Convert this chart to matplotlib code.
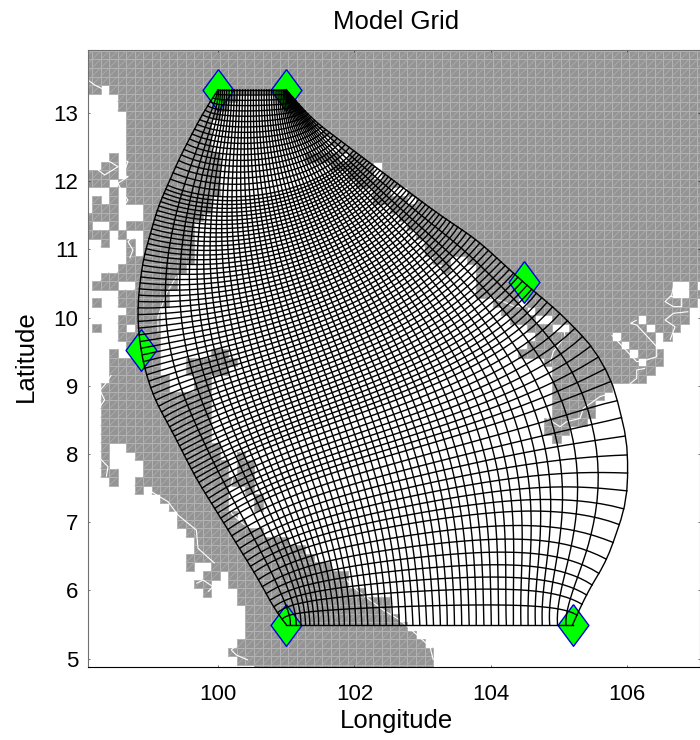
import numpy as np
import matplotlib
matplotlib.use('Agg')
import matplotlib.pyplot as plt
from matplotlib.collections import LineCollection, PolyCollection

plt.rcParams['font.family'] = ['Liberation Sans', 'DejaVu Sans']

# land mask: 1/8 degree cells, water cols (start, end) listed per row from the top
cell = 0.125
mask_lon0 = 98.028
mask_lat0 = 13.91
n_cols = 73
water_rows = [
    [], [], [], [],
    [(2, 3)],
    [(0, 4), (18, 23)],
    [(0, 4), (17, 25)],
    [(0, 5), (16, 26)],
    [(0, 5), (15, 26)],
    [(0, 5), (15, 28)],
    [(0, 5), (15, 29)],
    [(0, 5), (15, 30)],
    [(0, 3), (4, 5), (16, 26), (30, 31)],
    [(0, 2), (4, 5), (16, 29), (34, 35)],
    [(4, 5), (16, 31), (34, 35)],
    [(3, 4), (16, 32)],
    [(0, 3), (4, 5), (16, 34), (36, 38)],
    [(0, 1), (2, 3), (4, 5), (15, 34), (38, 39)],
    [(0, 1), (4, 7), (15, 36)],
    [(4, 7), (14, 37)],
    [(1, 3), (4, 5), (13, 38)],
    [(3, 4), (5, 7), (13, 39)],
    [(0, 2), (3, 5), (6, 7), (13, 40)],
    [(0, 5), (6, 7), (13, 40)],
    [(0, 5), (13, 41), (43, 45)],
    [(0, 4), (12, 42), (43, 46)],
    [(0, 2), (11, 46)],
    [(0, 1), (4, 6), (11, 46), (69, 71), (72, 73)],
    [(0, 4), (10, 46), (69, 71)],
    [(0, 1), (2, 4), (10, 48), (51, 52), (72, 73)],
    [(0, 5), (9, 49), (52, 53), (71, 73)],
    [(0, 4), (9, 50), (53, 55), (65, 66), (71, 73)],
    [(0, 1), (2, 4), (5, 6), (9, 52), (55, 57), (66, 67), (70, 73)],
    [(0, 4), (9, 53), (62, 63), (67, 68), (69, 73)],
    [(0, 5), (9, 52), (63, 64), (67, 73)],
    [(0, 3), (4, 6), (9, 15), (17, 51), (64, 65), (68, 73)],
    [(0, 3), (9, 12), (18, 54), (65, 66), (68, 73)],
    [(0, 3), (9, 12), (17, 55), (67, 73)],
    [(0, 3), (10, 13), (15, 55), (66, 73)],
    [(0, 2), (10, 13), (15, 55), (62, 73)],
    [(0, 2), (15, 55), (61, 73)],
    [(0, 2), (15, 55), (60, 73)],
    [(0, 2), (15, 55), (60, 73)],
    [(0, 2), (15, 54), (59, 73)],
    [(0, 2), (15, 54), (57, 73)],
    [(0, 2), (15, 55), (56, 73)],
    [(0, 2), (3, 5), (16, 73)],
    [(0, 2), (3, 6), (16, 18), (19, 73)],
    [(0, 2), (3, 7), (17, 18), (20, 73)],
    [(0, 2), (4, 7), (17, 18), (20, 73)],
    [(0, 3), (4, 6), (20, 73)],
    [(0, 6), (7, 8), (17, 19), (20, 73)],
    [(0, 9), (17, 20), (21, 73)],
    [(0, 10), (17, 20), (21, 73)],
    [(0, 11), (18, 73)],
    [(0, 11), (19, 73)],
    [(0, 12), (21, 73)],
    [(0, 13), (24, 73)],
    [(0, 13), (26, 73)],
    [(0, 12), (27, 73)],
    [(0, 12), (13, 15), (29, 73)],
    [(0, 14), (16, 17), (31, 73)],
    [(0, 13), (15, 17), (31, 73)],
    [(0, 14), (15, 18), (33, 73)],
    [(0, 18), (36, 73)],
    [(0, 19), (36, 73)],
    [(0, 19), (37, 73)],
    [(0, 19), (38, 73)],
    [(0, 19), (39, 73)],
    [(0, 18), (40, 73)],
    [(0, 17), (41, 73)],
    [(0, 18), (41, 73)],
    [(0, 20), (41, 73)],
]

# white coast lines
coast_lines = [
    [(105.772, 9.745), (106.139, 9.354), (106.286, 9.379), (106.432, 9.427), (106.432, 9.574),
     (106.139, 9.892), (106.051, 9.916), (106.139, 9.965)],
    [(106.848, 10.478), (106.677, 10.454), (106.652, 10.332), (106.554, 10.234), (106.677, 10.161),
     (106.799, 10.161), (106.799, 10.307), (106.628, 10.307)],
    [(106.896, 10.087), (106.677, 10.063), (106.554, 9.965), (106.701, 9.867), (106.628, 9.672)],
    [(105.992, 8.988), (106.139, 9.110), (106.139, 9.232), (106.261, 9.256)],
    [(104.819, 8.523), (105.015, 8.401), (105.113, 8.474), (105.308, 8.523), (105.357, 8.670),
     (105.601, 8.841), (105.748, 8.890)],
    [(104.868, 9.330), (104.917, 9.501), (105.088, 9.721), (105.064, 9.867)],
    [(103.963, 10.307), (104.183, 10.234), (104.354, 10.160), (104.525, 10.185)],
    [(98.094, 13.484), (98.192, 13.411), (98.338, 13.338)],
    [(98.265, 12.311), (98.412, 12.287), (98.534, 12.213), (98.338, 12.091), (98.241, 12.164)],
    [(98.558, 12.311), (98.680, 12.287), (98.607, 12.091), (98.680, 12.067), (98.534, 11.969),
     (98.607, 11.822), (98.680, 11.725), (98.607, 11.627)],
    [(98.680, 11.236), (98.778, 11.211), (98.680, 11.114), (98.754, 10.991), (98.705, 10.869)],
    [(98.436, 9.158), (98.338, 9.011), (98.270, 8.938), (98.338, 8.792), (98.270, 8.694)],
    [(98.270, 7.936), (98.387, 7.814), (98.363, 7.667)],
    [(99.023, 7.447), (99.267, 7.301), (99.414, 7.105), (99.683, 6.885), (99.707, 6.617), (99.951, 6.397)],
    [(99.682, 6.103), (99.780, 6.152), (99.927, 6.055), (99.854, 5.981)],
    [(100.269, 5.199), (100.196, 5.126), (100.269, 5.052), (100.440, 4.979)],
    [(100.000, 8.303), (100.244, 8.107), (100.269, 7.912), (100.171, 7.423), (100.196, 7.130), (100.391, 6.959)],
    [(99.389, 10.600), (99.243, 10.356), (99.120, 10.014), (99.120, 9.770)],
    [(101.838, 6.201), (102.033, 6.006), (102.424, 5.712), (102.668, 5.566), (102.864, 5.395),
     (103.108, 5.175), (103.157, 4.979)],
]

# green markers
marker_lon = [100.0, 101.0, 104.49, 98.87, 101.0, 105.2]
marker_lat = [13.34, 13.34, 10.52, 9.52, 5.5, 5.5]

# grid edges, read along the outer boundary from top to bottom
left_lon = [100.0, 99.78, 99.443, 99.12, 98.90, 98.827, 98.827, 98.886, 98.959, 99.076, 99.340, 99.692,
            100.176, 100.572, 100.865, 101.0]
left_lat = [13.34, 13.0, 12.355, 11.622, 10.845, 10.258, 9.862, 9.422, 9.129, 8.792, 8.308, 7.619,
            6.842, 6.196, 5.668, 5.5]
right_lon = [101.0, 101.393, 102.229, 103.211, 103.798, 104.282, 104.472, 105.015, 105.499, 105.792,
             105.997, 106.012, 105.968, 105.704, 105.411, 105.2]
right_lat = [13.34, 12.897, 12.267, 11.534, 11.138, 10.698, 10.522, 10.067, 9.569, 9.041, 8.205, 7.619,
             7.208, 6.446, 5.962, 5.5]
# relative widths of the grid bands, left to right and top to bottom
long_widths = [3.0, 1.8, 1.3, 1.1] + [1.0] * 37 + [1.1, 1.3, 1.6, 2.0]
cross_widths = [1.7] * 19 + [1.0] * 55 + [1.25] * 8 + [1.8] * 8 + [2.4] * 6 + [3.2, 4.0]
model_ratio = 0.62  # width over height of the computational rectangle

x_ticks = [100, 102, 104, 106]
y_ticks = [5, 6, 7, 8, 9, 10, 11, 12, 13]


def dense_edge(lon, lat, n=1000):
    lon, lat = np.array(lon), np.array(lat)
    t = np.r_[0, np.cumsum(np.hypot(np.diff(lon), np.diff(lat)))]
    t = t / t[-1]
    d = np.linspace(0, 1, n)
    out = []
    for v in (lon, lat):
        y = np.interp(d, t, v)
        k = 25
        pad = np.r_[2 * y[0] - y[k:0:-1], y, 2 * y[-1] - y[-2:-k - 2:-1]]
        out.append(np.convolve(pad, np.ones(2 * k + 1) / (2 * k + 1), mode='valid'))
    return np.array(out[0]), np.array(out[1])


def slide(curve, px, py):
    # nearest curve points for the next row of nodes, kept in order
    cx, cy = curve
    d = (cx[None, :] - px[:, None]) ** 2 + (cy[None, :] - py[:, None]) ** 2
    idx = np.sort(d.argmin(axis=1))
    return cx[idx], cy[idx]


def conformal_grid(left, right, nu=61, nv=91, iters=2500, omega=1.8):
    top = np.linspace(left[0][0], right[0][0], 300), np.linspace(left[1][0], right[1][0], 300)
    bottom = np.linspace(left[0][-1], right[0][-1], 400), np.linspace(left[1][-1], right[1][-1], 400)
    u = np.linspace(0, 1, nu)[:, None]
    v = np.linspace(0, 1, nv)[None, :]
    il = np.linspace(0, len(left[0]) - 1, nv).astype(int)
    ir = np.linspace(0, len(right[0]) - 1, nv).astype(int)
    gx = (1 - u) * left[0][il][None, :] + u * right[0][ir][None, :]
    gy = (1 - u) * left[1][il][None, :] + u * right[1][ir][None, :]
    ax_ = (1 / (model_ratio / (nu - 1))) ** 2
    ay_ = (nv - 1.0) ** 2
    ii, jj = np.meshgrid(np.arange(nu), np.arange(nv), indexing='ij')
    red = ((ii + jj) % 2 == 0)[1:-1, 1:-1]
    for it in range(iters):
        for m in (red, ~red):
            for g in (gx, gy):
                new = (ax_ * (g[:-2, 1:-1] + g[2:, 1:-1]) + ay_ * (g[1:-1, :-2] + g[1:-1, 2:])) / (2 * (ax_ + ay_))
                inner = g[1:-1, 1:-1]
                inner[m] += omega * (new[m] - inner[m])
        if it % 5 == 0:
            gx[0, 1:-1], gy[0, 1:-1] = slide(left, gx[1, 1:-1], gy[1, 1:-1])
            gx[-1, 1:-1], gy[-1, 1:-1] = slide(right, gx[-2, 1:-1], gy[-2, 1:-1])
            gx[1:-1, 0], gy[1:-1, 0] = slide(top, gx[1:-1, 1], gy[1:-1, 1])
            gx[1:-1, -1], gy[1:-1, -1] = slide(bottom, gx[1:-1, -2], gy[1:-1, -2])
    return gx, gy


def band_edges(widths):
    return np.r_[0, np.cumsum(widths)] / np.sum(widths)


fig = plt.figure(figsize=(7, 7.4), dpi=100)
ax = fig.add_axes([88 / 700, 1 - 667 / 740, 612 / 700, 617 / 740])

# land cells
quads = []
diags = []
for r, spans in enumerate(water_rows):
    y1 = mask_lat0 - r * cell
    y0 = y1 - cell
    for c in range(n_cols):
        if any(a <= c < b for a, b in spans):
            continue
        x0 = mask_lon0 + c * cell
        x1 = x0 + cell
        quads.append([(x0, y0), (x1, y0), (x1, y1), (x0, y1)])
        diags.append([(x0, y0), (x1, y1)])
# the rows above the first listed one are land as well
for c in range(n_cols):
    x0 = mask_lon0 + c * cell
    quads.append([(x0, mask_lat0), (x0 + cell, mask_lat0), (x0 + cell, mask_lat0 + cell), (x0, mask_lat0 + cell)])
ax.add_collection(PolyCollection(quads, facecolors='#949494', edgecolors='#b4b4b4', linewidths=0.7, zorder=1))
ax.add_collection(LineCollection(diags, colors='#aeaeae', linewidths=0.55, zorder=1.1))
ax.add_collection(LineCollection(coast_lines, colors='white', linewidths=0.8, zorder=1.2))

# markers go under the grid
diamond = [(0, 1), (0.74, 0), (0, -1), (-0.74, 0), (0, 1)]
ax.plot(marker_lon, marker_lat, ls='none', marker=diamond, ms=30, mfc='#00ff00', mec='#0000e0', mew=1, zorder=2)

# model grid, picked out of the finer solved grid
gx, gy = conformal_grid(dense_edge(left_lon, left_lat), dense_edge(right_lon, right_lat))
fu = np.linspace(0, 1, gx.shape[0])
fv = np.linspace(0, 1, gx.shape[1])
us = band_edges(long_widths)
vs = band_edges(cross_widths)
long_x = np.array([np.interp(us, fu, gx[:, j]) for j in range(len(fv))])
long_y = np.array([np.interp(us, fu, gy[:, j]) for j in range(len(fv))])
cross_x = np.array([np.interp(vs, fv, gx[i, :]) for i in range(len(fu))])
cross_y = np.array([np.interp(vs, fv, gy[i, :]) for i in range(len(fu))])
ax.plot(long_x, long_y, color='k', lw=1.0, zorder=3)
ax.plot(cross_x, cross_y, color='k', lw=1.0, zorder=3)

ax.set_xlim(98.094, 107.067)
ax.set_ylim(4.877, 13.924)
ax.set_xticks(x_ticks)
ax.set_yticks(y_ticks)
ax.tick_params(direction='in', length=1.5, width=0.4, labelsize=16, colors='k', top=True, right=True, pad=7)
ax.tick_params(axis='x', pad=12)
for name in ['left', 'top', 'right']:
    ax.spines[name].set_color('#707070')
    ax.spines[name].set_linewidth(0.8)
ax.spines['bottom'].set_linewidth(0.8)

fig.text(396 / 700, 1 - 22 / 740, 'Model Grid', fontsize=18.5, ha='center', va='center')
fig.text(396 / 700, 1 - 721 / 740, 'Longitude', fontsize=18.5, ha='center', va='center')
fig.text(26 / 700, 1 - 356 / 740, 'Latitude', fontsize=18.5, ha='center', va='center', rotation=90)

fig.savefig('out.png', dpi=100)
